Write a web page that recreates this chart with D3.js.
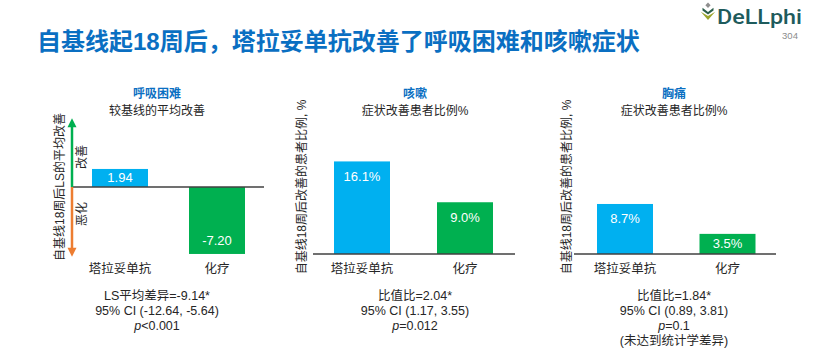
<!DOCTYPE html>
<html><head><meta charset="utf-8">
<script src="https://cdn.jsdelivr.net/npm/d3@7"></script>
<style>
body{margin:0;background:#fff;}
svg{display:block;}
text{font-family:"Liberation Sans","Noto Sans CJK SC",sans-serif;fill:#262626;}
</style></head><body>
<svg id="c" width="830" height="357"></svg>
<script>
const titleText = "自基线起18周后，塔拉妥单抗改善了呼吸困难和咳嗽症状";
const categories = ["塔拉妥单抗", "化疗"];
const panelTitles = ["呼吸困难", "咳嗽", "胸痛"];
const panelSubtitles = ["较基线的平均改善", "症状改善患者比例%", "症状改善患者比例%"];
const yAxisTitles = ["自基线18周后LS的平均改善", "自基线18周后改善的患者比例, %", "自基线18周后改善的患者比例, %"];
const dyspneaValues = [1.94, -7.20];
const coughValues = [16.1, 9.0];
const chestPainValues = [8.7, 3.5];
const valueLabels = [["1.94", "-7.20"], ["16.1%", "9.0%"], ["8.7%", "3.5%"]];
const statsLines = [
  ["LS平均差异=-9.14*", "95% CI (-12.64, -5.64)", "p<0.001"],
  ["比值比=2.04*", "95% CI (1.17, 3.55)", "p=0.012"],
  ["比值比=1.84*", "95% CI (0.89, 3.81)", "p=0.1", "(未达到统计学差异)"]
];
const arrowLabels = ["改善", "恶化"];
const barColors = ["#00b0f0", "#00b050"];
const logoName = "DeLLphi";
const logoNumber = "304";

const svg = d3.select("#c");

// Title
svg.append("text").attr("x", 37).attr("y", 50)
  .style("font-size", "24px").style("font-weight", "bold").style("fill", "#0a6fc2")
  .text(titleText);

// Logo
const logo = svg.append("g");
logo.append("path").attr("d", "M708,2.5 L710.6,5.2 L708,7.9 L705.4,5.2 Z").attr("fill", "#8f8f8f");
logo.append("path").attr("d", "M702.5,7.8 L708,12 L713.5,7.8 L713.5,10.4 L708,14.6 L702.5,10.4 Z").attr("fill", "#2b5f4a");
logo.append("path").attr("d", "M700.8,11.8 L708,16 L715.2,11.8 L708,20 Z").attr("fill", "#9ba52c");
logo.append("text").attr("x", 717).attr("y", 24)
  .attr("textLength", 85).attr("lengthAdjust", "spacingAndGlyphs")
  .style("font-family", "Roboto, sans-serif").style("font-weight", 500)
  .style("font-size", "20px").style("fill", "#1e5b5c").text(logoName);
logo.append("text").attr("x", 790).attr("y", 39).attr("text-anchor", "middle")
  .style("font-size", "9.5px").style("fill", "#8c8c8c").text(logoNumber);

// Panels
const panels = [
  { values: dyspneaValues, center: 157, xRange: [71.5, 265.5], base: [73, 264],
    y: d3.scaleLinear().domain([-7.5, 7.5]).range([187 + 69.75, 187 - 69.75]), yTitleX: 60 },
  { values: coughValues, center: 415, xRange: [310.5, 516.5], base: [313, 515],
    y: d3.scaleLinear().domain([0, 20]).range([254, 139]), yTitleX: 302 },
  { values: chestPainValues, center: 674, xRange: [573.75, 778.75], base: [574, 776],
    y: d3.scaleLinear().domain([0, 20]).range([254, 139]), yTitleX: 567 }
];

panels.forEach((p, i) => {
  const g = svg.append("g");
  const step = (p.xRange[1] - p.xRange[0]) / 2;
  const pi = 1 - 56 / step;
  const x = d3.scaleBand().domain(categories).range(p.xRange).paddingInner(pi).paddingOuter(pi / 2);
  const y = p.y;
  const y0 = y(0);

  // panel title & subtitle
  g.append("text").attr("x", p.center).attr("y", 97.5).attr("text-anchor", "middle")
    .style("font-size", "12px").style("font-weight", "bold").style("fill", "#0a6fc2").text(panelTitles[i]);
  g.append("text").attr("x", p.center).attr("y", 114.5).attr("text-anchor", "middle")
    .style("font-size", "12px").text(panelSubtitles[i]);

  // y axis title
  g.append("text").attr("transform", `translate(${p.yTitleX},187) rotate(-90)`)
    .attr("text-anchor", "middle").attr("dominant-baseline", "central")
    .style("font-size", "12px").text(yAxisTitles[i]);

  // bars
  const data = categories.map((c, j) => ({ c, v: p.values[j], label: valueLabels[i][j], color: barColors[j] }));
  g.selectAll("rect").data(data).enter().append("rect")
    .attr("x", d => x(d.c)).attr("width", x.bandwidth())
    .attr("y", d => Math.min(y(d.v), y0))
    .attr("height", d => Math.abs(y(d.v) - y0))
    .attr("fill", d => d.color);

  // value labels
  g.selectAll("text.val").data(data).enter().append("text").attr("class", "val")
    .attr("x", d => x(d.c) + x.bandwidth() / 2)
    .attr("y", d => {
      const mid = (y(d.v) + y0) / 2;
      return d.v >= 0 ? Math.min(y(d.v) + 15, mid) : Math.max(y(d.v) - 13, mid);
    })
    .attr("text-anchor", "middle").attr("dominant-baseline", "central")
    .style("font-size", "13px").style("fill", "#fff").text(d => d.label);

  // baseline
  g.append("line").attr("x1", p.base[0]).attr("x2", p.base[1]).attr("y1", y0).attr("y2", y0)
    .attr("stroke", "#404040").attr("stroke-width", 1.5);

  // category labels
  g.selectAll("text.cat").data(categories).enter().append("text").attr("class", "cat")
    .attr("x", c => x(c) + x.bandwidth() / 2).attr("y", 272.5).attr("text-anchor", "middle")
    .style("font-size", "12.5px").text(c => c);

  // stats
  const st = g.append("text").attr("text-anchor", "middle").style("font-size", "12.5px");
  statsLines[i].forEach((line, k) => {
    const t = st.append("tspan").attr("x", p.center).attr("y", 300 + k * 15);
    if (line.startsWith("p")) {
      t.append("tspan").style("font-style", "italic").text("p");
      t.append("tspan").text(line.slice(1));
    } else t.text(line);
  });

  // arrows for panel 1
  if (i === 0) {
    const ax = 72;
    const top = y(y.domain()[1]) + 1, bot = y(y.domain()[0]);
    g.append("line").attr("x1", ax).attr("x2", ax).attr("y1", y0).attr("y2", top + 7)
      .attr("stroke", "#00b050").attr("stroke-width", 2.5);
    g.append("path").attr("d", `M${ax},${top} L${ax + 4.5},${top + 9} L${ax - 4.5},${top + 9} Z`).attr("fill", "#00b050");
    g.append("line").attr("x1", ax).attr("x2", ax).attr("y1", y0).attr("y2", bot - 7)
      .attr("stroke", "#ed7d31").attr("stroke-width", 2.5);
    g.append("path").attr("d", `M${ax},${bot} L${ax + 4.5},${bot - 9} L${ax - 4.5},${bot - 9} Z`).attr("fill", "#ed7d31");
    g.append("text").attr("transform", "translate(82,157) rotate(-90)")
      .attr("text-anchor", "middle").attr("dominant-baseline", "central")
      .style("font-size", "12px").text(arrowLabels[0]);
    g.append("text").attr("transform", "translate(82,214) rotate(-90)")
      .attr("text-anchor", "middle").attr("dominant-baseline", "central")
      .style("font-size", "12px").text(arrowLabels[1]);
  }
});
</script>
</body></html>
